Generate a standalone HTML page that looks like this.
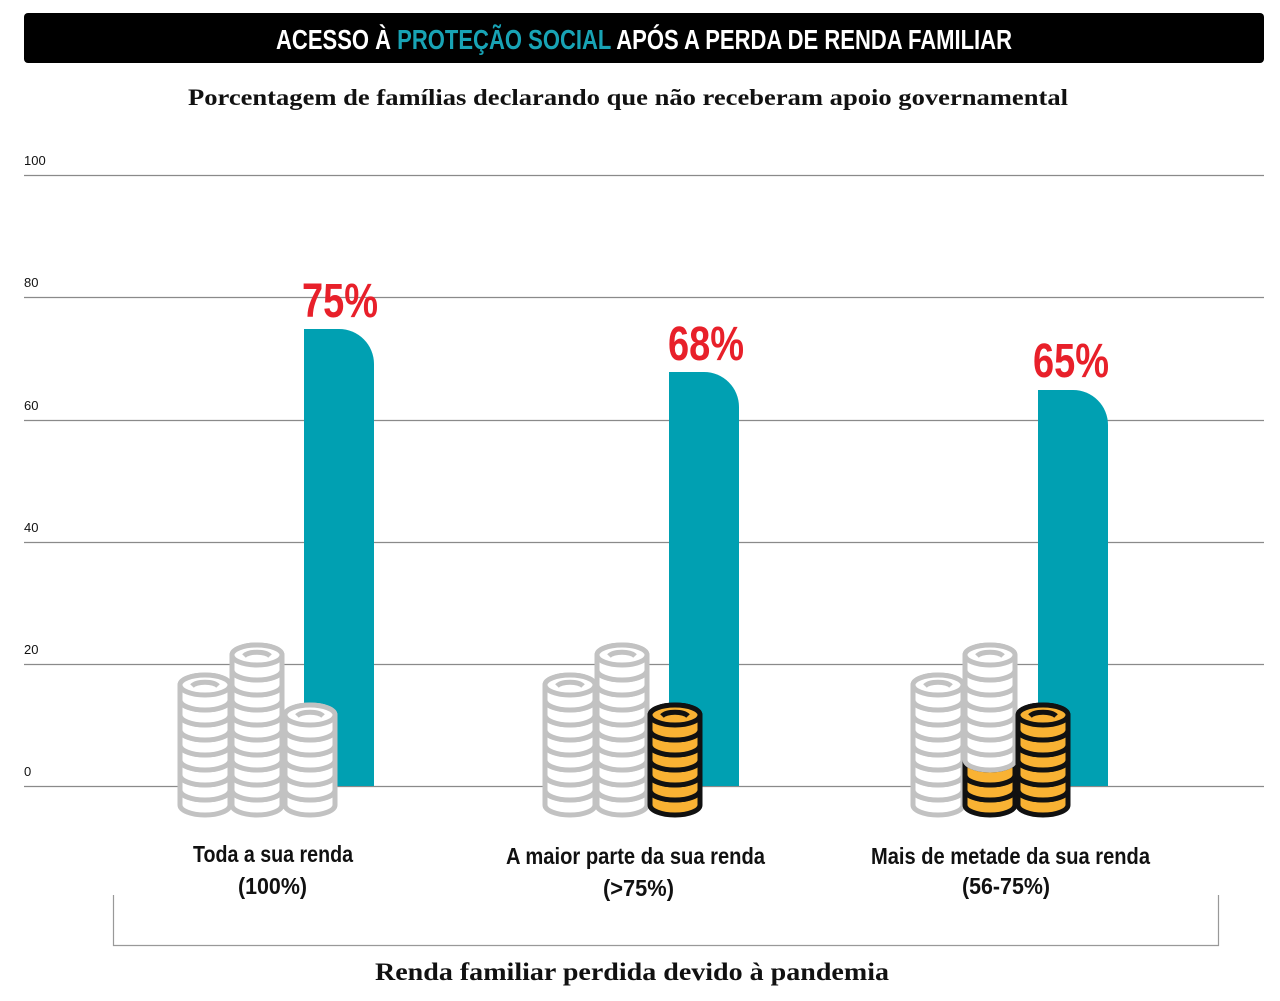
<!DOCTYPE html>
<html><head><meta charset="utf-8"><style>
body{margin:0;background:#fff;width:1280px;height:1001px;overflow:hidden}
svg{display:block}
.cond{font-family:"Liberation Sans",sans-serif;font-weight:bold}
.serif{font-family:"Liberation Serif",serif;font-weight:bold}
</style></head><body>
<svg id="s" width="1280" height="1001" viewBox="0 0 1280 1001" xmlns="http://www.w3.org/2000/svg">
<rect x="24" y="13" width="1240" height="50" rx="4" fill="#000"/>
<text x="276" y="49" class="cond" font-size="28" fill="#fff" textLength="736" lengthAdjust="spacingAndGlyphs">ACESSO À <tspan fill="#18a3b5">PROTEÇÃO SOCIAL</tspan> APÓS A PERDA DE RENDA FAMILIAR</text>
<text x="188" y="105" class="serif" font-size="23" fill="#111" textLength="880" lengthAdjust="spacingAndGlyphs">Porcentagem de famílias declarando que não receberam apoio governamental</text>
<g stroke="#8a8a8a" stroke-width="1.2">
<line x1="24" x2="1264" y1="175.5" y2="175.5"/>
<line x1="24" x2="1264" y1="297.5" y2="297.5"/>
<line x1="24" x2="1264" y1="420.5" y2="420.5"/>
<line x1="24" x2="1264" y1="542.5" y2="542.5"/>
<line x1="24" x2="1264" y1="664.5" y2="664.5"/>
<line x1="24" x2="1264" y1="786.5" y2="786.5"/>
</g>
<g font-family="Liberation Sans,sans-serif" font-size="13" fill="#111">
<text x="24" y="165">100</text><text x="24" y="287">80</text><text x="24" y="410">60</text>
<text x="24" y="532">40</text><text x="24" y="654">20</text><text x="24" y="776">0</text>
</g>
<g fill="#00a0b2">
<path d="M304 786 V329 H339 A35 35 0 0 1 374 364 V786 Z"/>
<path d="M669 786 V372 H704 A35 35 0 0 1 739 407 V786 Z"/>
<path d="M1038 786 V390 H1073 A35 35 0 0 1 1108 425 V786 Z"/>
</g>
<g class="cond" font-size="48" fill="#e8202a">
<text x="302" y="317" textLength="76" lengthAdjust="spacingAndGlyphs">75%</text>
<text x="668" y="360" textLength="76" lengthAdjust="spacingAndGlyphs">68%</text>
<text x="1033" y="377" textLength="76" lengthAdjust="spacingAndGlyphs">65%</text>
</g>
<g id="coins"></g>
<g class="cond" font-size="23" fill="#111">
<text x="193" y="862" textLength="160" lengthAdjust="spacingAndGlyphs">Toda a sua renda</text>
<text x="238" y="894" textLength="69" lengthAdjust="spacingAndGlyphs">(100%)</text>
<text x="506" y="864" textLength="259" lengthAdjust="spacingAndGlyphs">A maior parte da sua renda</text>
<text x="603" y="896" textLength="71" lengthAdjust="spacingAndGlyphs">(&gt;75%)</text>
<text x="871" y="864" textLength="279" lengthAdjust="spacingAndGlyphs">Mais de metade da sua renda</text>
<text x="962" y="894" textLength="88" lengthAdjust="spacingAndGlyphs">(56-75%)</text>
</g>
<path d="M113.5 895 V945.5 H1218.5 V895" fill="none" stroke="#999" stroke-width="1.2"/>
<text x="375" y="980" class="serif" font-size="25" fill="#111" textLength="514" lengthAdjust="spacingAndGlyphs">Renda familiar perdida devido à pandemia</text>
</svg>
<script>
var g=document.getElementById('coins'),NS='http://www.w3.org/2000/svg';
var G={f:'#fff',s:'#c2c2c2'},Y={f:'#f9b233',s:'#111'};
function stack(cx,n,col){
  var rx=25,ry=10,h=15,base=790;
  for(var i=0;i<n;i++){
    var c=col(i),c1=base-i*h;
    var p=document.createElementNS(NS,'path');
    p.setAttribute('d','M'+(cx-rx)+' '+c1+' V'+(c1+h)+' A'+rx+' '+ry+' 0 0 0 '+(cx+rx)+' '+(c1+h)+' V'+c1+' A'+rx+' '+ry+' 0 0 0 '+(cx-rx)+' '+c1+' Z');
    p.setAttribute('fill',c.f);p.setAttribute('stroke',c.s);p.setAttribute('stroke-width','5');p.setAttribute('stroke-linejoin','round');g.appendChild(p);
    var e=document.createElementNS(NS,'ellipse');
    e.setAttribute('cx',cx);e.setAttribute('cy',c1);e.setAttribute('rx',rx);e.setAttribute('ry',ry);
    e.setAttribute('fill',c.f);e.setAttribute('stroke',c.s);e.setAttribute('stroke-width','5');g.appendChild(e);
    if(i==n-1){var a=document.createElementNS(NS,'path');
      a.setAttribute('d','M'+(cx-13)+' '+(c1+1)+' A14 6 0 0 1 '+(cx+13)+' '+(c1+1));
      a.setAttribute('fill','none');a.setAttribute('stroke',c.s);a.setAttribute('stroke-width','5');g.appendChild(a);}
  }
}
function gray(){return G} function yel(){return Y}
stack(205,8,gray);stack(257,10,gray);stack(310,6,gray);
stack(570,8,gray);stack(622,10,gray);stack(675,6,yel);
stack(938,8,gray);stack(990,10,function(i){return i<3?Y:G});stack(1043,6,yel);
</script>
</body></html>
